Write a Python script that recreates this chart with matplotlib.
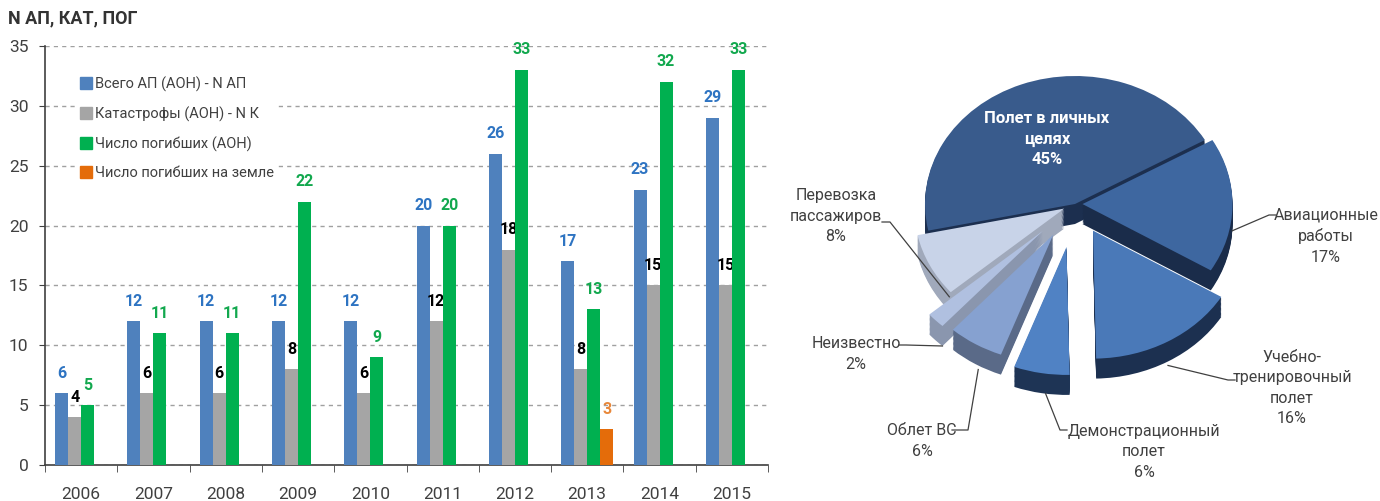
import numpy as np
import matplotlib.pyplot as plt
from matplotlib.lines import Line2D

plt.rcParams['font.family'] = ['Roboto', 'DejaVu Sans']

# ---- данные: столбчатая диаграмма
years = ['2006', '2007', '2008', '2009', '2010', '2011', '2012', '2013', '2014', '2015']
total_ap = [6, 12, 12, 12, 12, 20, 26, 17, 23, 29]
crashes = [4, 6, 6, 8, 6, 12, 18, 8, 15, 15]
fatal = [5, 11, 11, 22, 9, 20, 33, 13, 32, 33]
fatal_ground = [0, 0, 0, 0, 0, 0, 0, 3, 0, 0]
series_names = ['Всего АП (АОН) - N АП', 'Катастрофы (АОН) - N К',
                'Число погибших (АОН)', 'Число погибших на земле']
ylab = 'N АП, КАТ, ПОГ'

# ---- данные: круговая диаграмма
pie_names = ['Авиационные\nработы', 'Учебно-\nтренировочный\nполет',
             'Демонстрационный\nполет', 'Облет ВС', 'Неизвестно',
             'Перевозка\nпассажиров', 'Полет в личных\nцелях']
pie_values = [17, 16, 6, 6, 2, 8, 45]

bar_colors = ['#4f81bd', '#a5a5a5', '#00b050', '#e46c0a']
lbl_colors = ['#2e74c2', '#000000', '#12a84e', '#e8873a']

fig = plt.figure(figsize=(13.8, 5.01), dpi=100)

# ================= bars
ax = fig.add_axes([45 / 1380, 36 / 501, 723 / 1380, 419 / 501])
x = np.arange(len(years))
w = 0.18
for i, vals in enumerate([total_ap, crashes, fatal, fatal_ground]):
    bars = ax.bar(x + (i - 1.5) * w, vals, w, color=bar_colors[i], zorder=3)
    ax.bar_label(bars, labels=[str(v) if v else '' for v in vals], padding=9,
                 fontsize=11.5, fontweight='bold', color=lbl_colors[i])

ax.set_xlim(-0.5, len(years) - 0.5)
ax.set_ylim(0, 35)
ax.set_yticks(range(0, 36, 5))
ax.set_xticks(x)
ax.set_xticklabels(years)
ax.set_xticks(np.arange(-0.5, len(years)), minor=True)
ax.tick_params(axis='x', which='major', length=0, pad=16, labelsize=12.5, labelcolor='#404040')
ax.tick_params(axis='x', which='minor', length=5, color='#404040')
ax.tick_params(axis='y', length=4, pad=8, labelsize=12.5, labelcolor='#404040', color='#404040')
ax.grid(axis='y', color='#a0a0a0', linestyle=(0, (3, 3)), linewidth=1, zorder=0)
for s in ['top', 'right']:
    ax.spines[s].set_visible(False)
for s in ['left', 'bottom']:
    ax.spines[s].set_color('#404040')
    ax.spines[s].set_linewidth(1.2)

handles = [Line2D([], [], marker='s', linestyle='none', markersize=8, color=c)
           for c in bar_colors]
leg = ax.legend(handles, series_names, loc='upper left', bbox_to_anchor=(0.035, 0.955),
                fontsize=10.5, frameon=True, framealpha=1, edgecolor='none',
                handlelength=0.6, handletextpad=0.3, labelspacing=1.0,
                borderpad=0.3, labelcolor='#404040')
leg.set_zorder(5)

fig.text(8 / 1380, 1 - 18 / 501, ylab, fontsize=13, fontweight='bold',
         color='#333333', va='center')

# ================= 3D-подобная круговая диаграмма
CX, CY, RX, RY = 1075, 204, 150, 128


def px(a, b):
    return ((a - CX) / RX, (CY - b) / RY)


pax = fig.add_axes([780 / 1380, 0, 600 / 1380, 1])
explode = [0.05, 0.24, 0.34, 0.28, 0.30, 0.08, 0.0]
top_colors = ['#3e67a0', '#4a79b8', '#5082c4', '#86a1d0', '#b0c0e0', '#c8d3e8', '#395b8c']
side_colors = ['#1a2c4a', '#1c3050', '#1e3455', '#5a6a88', '#8a96ae', '#a0a9bb', '#1c2f4f']
depth = 20 / RY
n_layers = 16
for k in range(n_layers, 0, -1):
    pax.pie(pie_values, explode=explode, startangle=30, counterclock=False,
            colors=side_colors, center=(0, -depth * k / n_layers),
            wedgeprops=dict(linewidth=0))
wedges, _ = pax.pie(pie_values, explode=explode, startangle=30, counterclock=False,
                    colors=top_colors, wedgeprops=dict(linewidth=0))
pax.set_aspect('auto')
pax.set_xlim((780 - CX) / RX, (1380 - CX) / RX)
pax.set_ylim((CY - 501) / RY, CY / RY)
pax.axis('off')

# подписи
pax.text(*px(1047, 139), pie_names[6] + '\n45%', ha='center', va='center',
         fontsize=12, fontweight='bold', color='white', linespacing=1.45)

text_pos = [(1326, 236), (1292, 388), (1144, 452), (922, 441), (856, 354), (836, 216)]
anchor_t = [-3, -60, -98, -120, -132, -140]
anchor_f = [1, 1.2, 1, 1.2, 1, 0.3]
line_end = [(1276, 215), (1235, 380), (1067, 430), (952, 430), (899, 345), (882, 222)]
elbow_dx = [-7, -7, -7, 16, 7, 8]

for i in range(6):
    pct = f'{pie_values[i]}%'
    pax.text(*px(*text_pos[i]), pie_names[i] + '\n' + pct, ha='center', va='center',
             fontsize=11.5, color='#404040', linespacing=1.45)
    mid = np.deg2rad((wedges[i].theta1 + wedges[i].theta2) / 2)
    t = np.deg2rad(anchor_t[i])
    ax_ = explode[i] * np.cos(mid) + np.cos(t)
    ay_ = explode[i] * np.sin(mid) + np.sin(t) - depth * anchor_f[i]
    ex, ey = px(*line_end[i])
    bx, by = px(line_end[i][0] + elbow_dx[i], line_end[i][1])
    pax.plot([ax_, bx, ex], [ay_, by, ey], color='#404040', lw=0.9, clip_on=False)

fig.savefig('out.png', dpi=100)
